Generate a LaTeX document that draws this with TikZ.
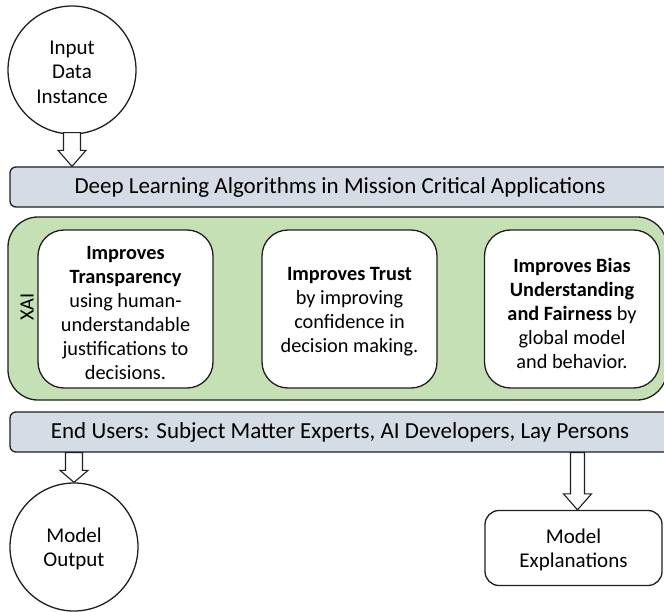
\documentclass[tikz,border=0pt]{standalone}
\usepackage{fontspec}
\setmainfont{Carlito}
\usetikzlibrary{calc}
\definecolor{barfill}{HTML}{D6DCE5}
\definecolor{xaigreen}{HTML}{C5E0B4}
\definecolor{edge}{HTML}{1F1F1F}
\tikzset{
  txt/.style={font=\fontsize{20.3}{24}\selectfont, align=center, text=black, inner sep=0pt},
  bigtxt/.style={font=\fontsize{21}{24.5}\selectfont, align=center, text=black, inner sep=0pt},
  bar/.style={draw=edge, fill=barfill, rounded corners=6pt, minimum width=660pt, minimum height=40pt, inner sep=0pt, font=\fontsize{23}{28}\selectfont},
  xaibox/.style={draw=edge, fill=xaigreen, rounded corners=30pt, minimum width=659pt, minimum height=183pt, inner sep=0pt},
  benefit/.style={draw=edge, fill=white, rounded corners=26pt, minimum width=175pt, minimum height=158pt, inner sep=0pt},
  roundnode/.style={draw=edge, fill=white, circle, minimum size=128pt, inner sep=0pt},
  outbox/.style={draw=edge, fill=white, rounded corners=14pt, minimum width=177pt, minimum height=75pt, inner sep=0pt},
  blockarrow/.style={draw=edge, fill=white, line width=1.1pt, line join=miter}
}
\begin{document}
\begin{tikzpicture}[x=1pt,y=-1pt, line width=1.3pt]
\useasboundingbox (0,0) rectangle (664,612);
\node[roundnode] (in) at (72,70) {};
\node[bigtxt] (int) at ($(in.center)+(0,2)$) {Input\\Data\\Instance};
\node[bar] (dl) at (340,187) {Deep Learning Algorithms in Mission Critical Applications};
\node[xaibox] (xai) at (337.5,308.5) {};
\node[txt, rotate=90, anchor=center] (xailabel) at (27,307) {XAI};
\node[benefit] (b1) at (125.5,309) {};
\node[txt] (b1t) at ($(b1.center)+(0,4)$) {\textbf{Improves}\\\textbf{Transparency}\\using human-\\understandable\\justifications to\\decisions.};
\node[benefit] (b2) at (349.5,309) {};
\node[txt] (b2t) at ($(b2.center)+(0,3)$) {\textbf{Improves Trust}\\by improving\\confidence in\\decision making.};
\node[benefit] (b3) at (572,309) {};
\node[txt] (b3t) at ($(b3.center)+(0,4)$) {\textbf{Improves Bias}\\\textbf{Understanding}\\\textbf{and Fairness} by\\global model\\and behavior.};
\node[bar] (eu) at (340,432) {End Users: Subject Matter Experts, AI Developers, Lay Persons};
\node[roundnode] (mo) at (74,547) {};
\node[bigtxt] (mot) at ($(mo.center)+(0,2)$) {Model\\Output};
\node[outbox] (me) at (573.5,548) {};
\node[bigtxt] (met) at ($(me.center)+(0,2)$) {Model\\Explanations};
% hollow block arrows
\path let \p1=(in.south), \p2=(dl.north) in
  [blockarrow] (\x1-8.5pt,\y1+2pt) -- (\x1+8.5pt,\y1+2pt) -- (\x1+8.5pt,\y2+16pt) -- (\x1+14pt,\y2+16pt)
  -- (\x1,\y2) -- (\x1-14pt,\y2+16pt) -- (\x1-8.5pt,\y2+16pt) -- cycle;
\path let \p1=(mo.north |- eu.south), \p2=(mo.north) in
  [blockarrow] (\x1-8.5pt,\y1) -- (\x1+8.5pt,\y1) -- (\x1+8.5pt,\y2+12pt) -- (\x1+14pt,\y2+12pt)
  -- (\x1,\y2) -- (\x1-14pt,\y2+12pt) -- (\x1-8.5pt,\y2+12pt) -- cycle;
\path let \p1=($(me.north |- eu.south)+(4,0)$), \p2=($(me.north)+(4,0)$) in
  [blockarrow] (\x1-7pt,\y1) -- (\x1+7pt,\y1) -- (\x1+7pt,\y2+16pt) -- (\x1+14pt,\y2+16pt)
  -- (\x1,\y2) -- (\x1-14pt,\y2+16pt) -- (\x1-7pt,\y2+16pt) -- cycle;
\end{tikzpicture}
\end{document}
